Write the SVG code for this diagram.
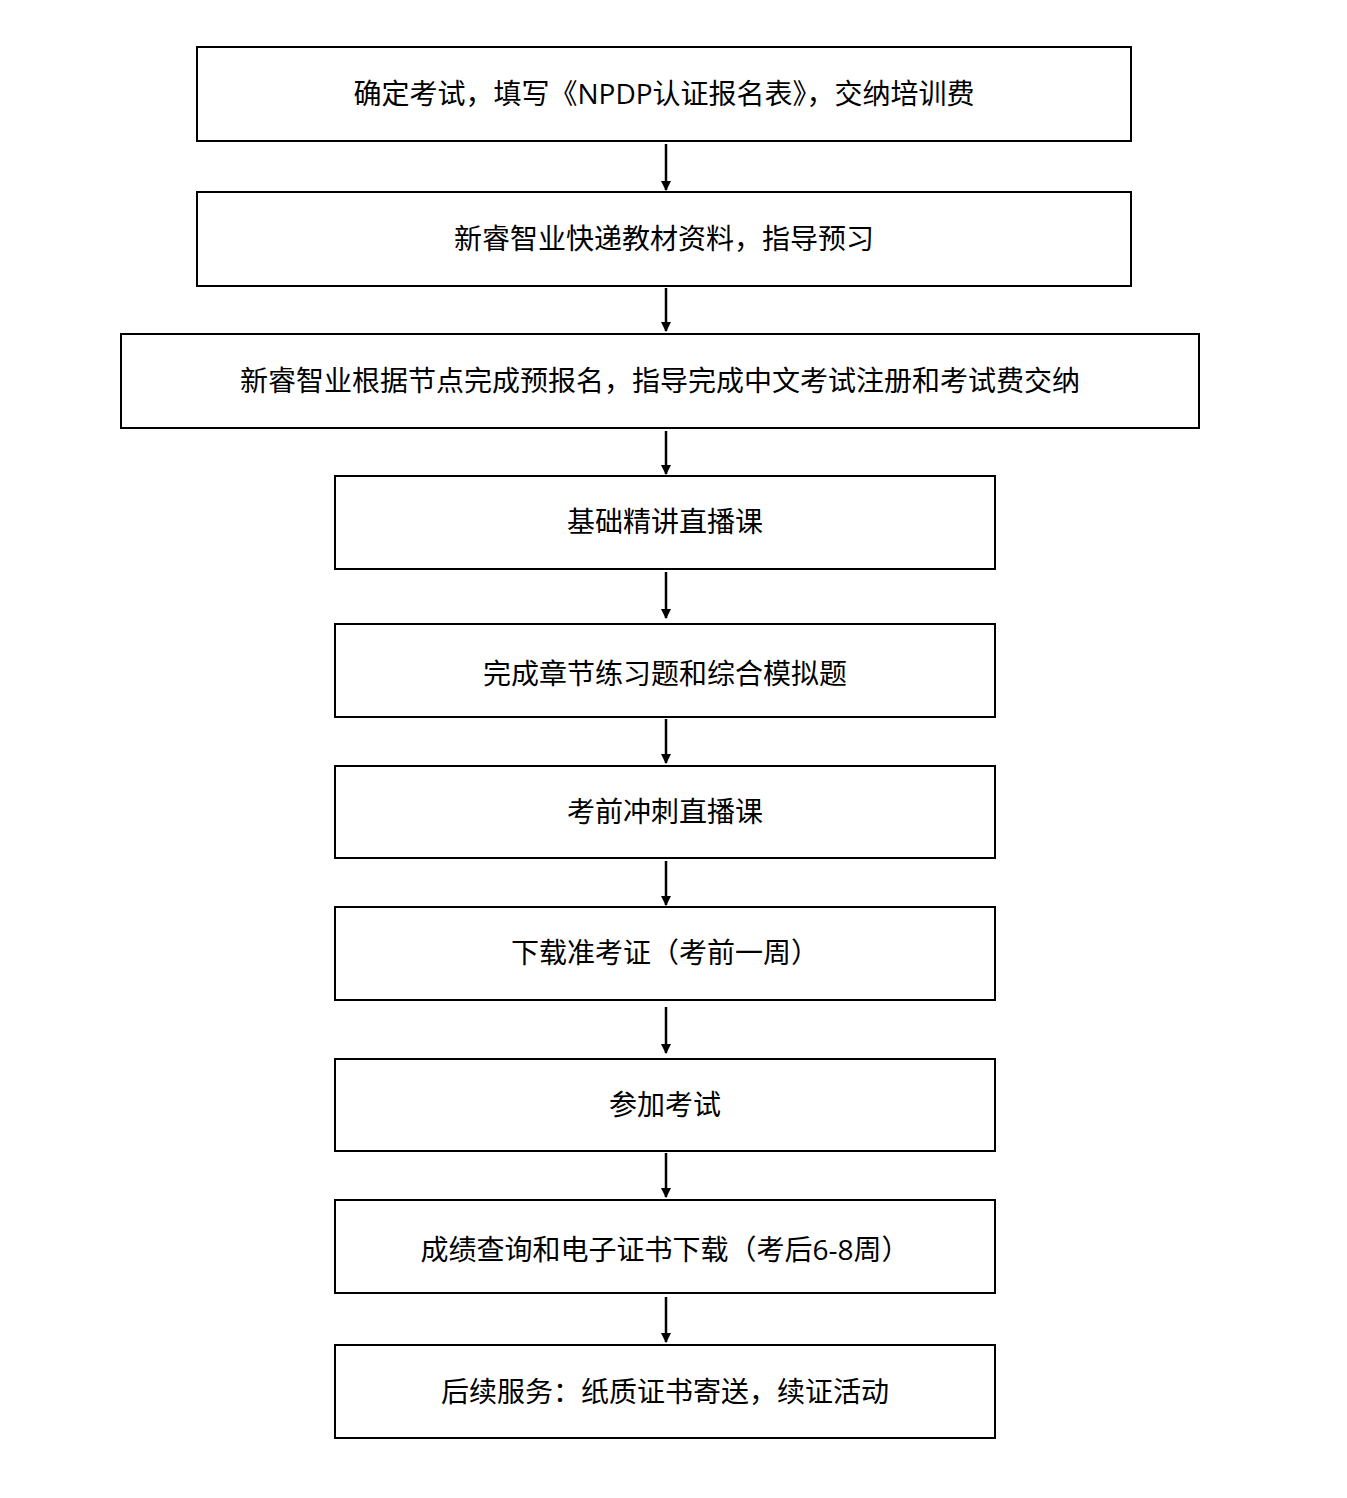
<svg xmlns="http://www.w3.org/2000/svg" width="1347" height="1498" viewBox="0 0 1347 1498">
<defs>
<style>
.b{fill:#fff;stroke:#000;stroke-width:2}
.t{font-family:"Open Sans","Noto Sans CJK SC",sans-serif;font-size:28px;text-anchor:middle;fill:#000}
.c{stroke:#000;stroke-width:2.5;fill:none;marker-end:url(#a)}
</style>
<marker id="a" markerWidth="10" markerHeight="10" refX="9" refY="5" orient="auto" markerUnits="userSpaceOnUse" viewBox="0 0 10 10"><path d="M0,0L10,5L0,10z" fill="#000"/></marker>
</defs>
<rect width="1347" height="1498" fill="#fff"/>
<g id="n1"><rect class="b" x="197" y="47" width="934" height="94"/><text class="t" x="664" y="104">确定考试，填写《NPDP认证报名表》，交纳培训费</text></g>
<g id="n2"><rect class="b" x="197" y="192" width="934" height="94"/><text class="t" x="664" y="249">新睿智业快递教材资料，指导预习</text></g>
<g id="n3"><rect class="b" x="121" y="334" width="1078" height="94"/><text class="t" x="660" y="391">新睿智业根据节点完成预报名，指导完成中文考试注册和考试费交纳</text></g>
<g id="n4"><rect class="b" x="335" y="476" width="660" height="93"/><text class="t" x="665" y="532">基础精讲直播课</text></g>
<g id="n5"><rect class="b" x="335" y="624" width="660" height="93"/><text class="t" x="665" y="684">完成章节练习题和综合模拟题</text></g>
<g id="n6"><rect class="b" x="335" y="766" width="660" height="92"/><text class="t" x="665" y="822">考前冲刺直播课</text></g>
<g id="n7"><rect class="b" x="335" y="907" width="660" height="93"/><text class="t" x="665" y="963">下载准考证（考前一周）</text></g>
<g id="n8"><rect class="b" x="335" y="1059" width="660" height="92"/><text class="t" x="665" y="1115">参加考试</text></g>
<g id="n9"><rect class="b" x="335" y="1200" width="660" height="93"/><text class="t" x="665" y="1260">成绩查询和电子证书下载（考后6-8周）</text></g>
<g id="n10"><rect class="b" x="335" y="1345" width="660" height="93"/><text class="t" x="665" y="1402">后续服务：纸质证书寄送，续证活动</text></g>
<g id="conn">
<path class="c" d="M666,144V190"/>
<path class="c" d="M666,288V331"/>
<path class="c" d="M666,431V474"/>
<path class="c" d="M666,572V618"/>
<path class="c" d="M666,719V763"/>
<path class="c" d="M666,861V905"/>
<path class="c" d="M666,1007V1053"/>
<path class="c" d="M666,1153V1197"/>
<path class="c" d="M666,1297V1342"/>
</g>
</svg>
